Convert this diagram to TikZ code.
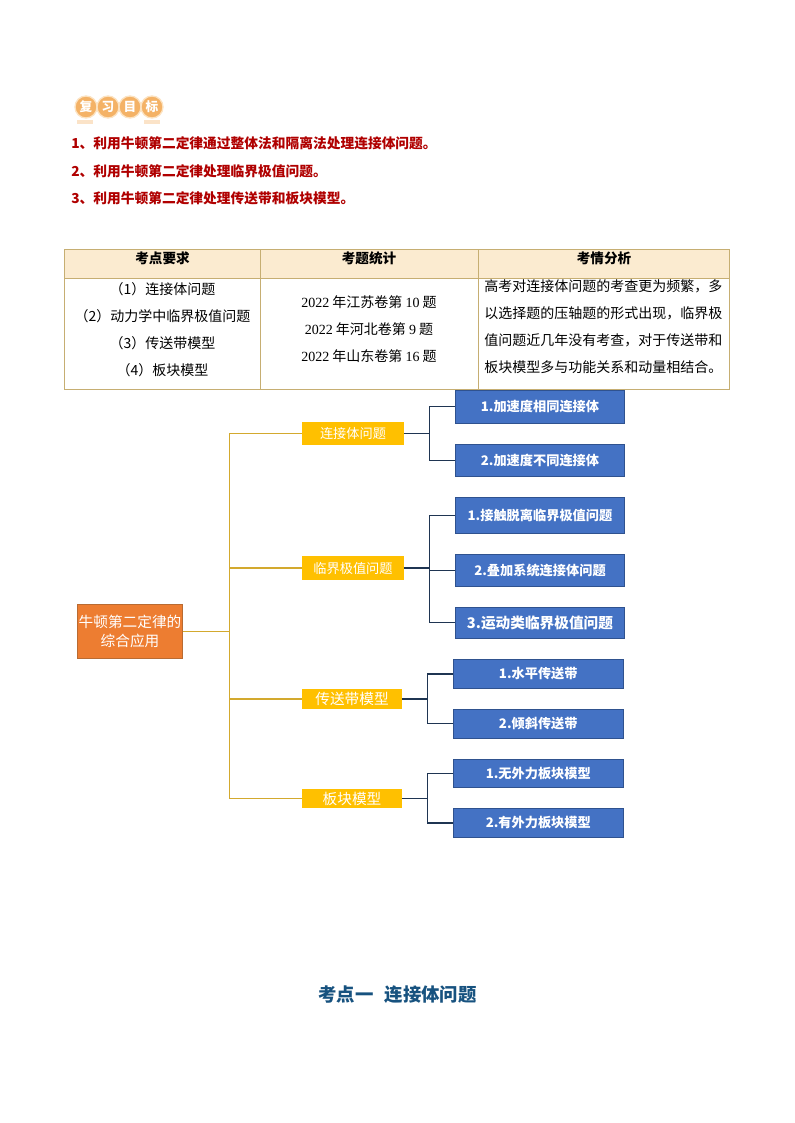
\documentclass[tikz,border=0pt]{standalone}
\usepackage{fontspec}
\setmainfont{Noto Sans CJK SC}
\newfontfamily\latinserif{Liberation Serif}
\definecolor{tabline}{HTML}{C6AE72}
\definecolor{tabhead}{HTML}{FBEBD0}
\definecolor{goldline}{HTML}{D3A92E}
\definecolor{navyline}{HTML}{1F3552}
\definecolor{rootfill}{HTML}{ED7D31}
\definecolor{rootedge}{HTML}{B96B32}
\definecolor{branchfill}{HTML}{FFC000}
\definecolor{leaffill}{HTML}{4472C4}
\definecolor{leafedge}{HTML}{2F528F}
\definecolor{badgefill}{HTML}{F4B266}
\definecolor{badgeedge}{HTML}{FCE3C2}
\definecolor{badgebar}{HTML}{FBE3C8}
\definecolor{goalred}{HTML}{B00000}
\definecolor{titleblue}{HTML}{17527F}
\newcommand{\px}[1]{\fontsize{#1*0.75}{#1*0.9}\selectfont}
\tikzset{
  fs/.style={font=\fontsize{#1}{#1}\selectfont},
  badge/.style={circle,draw=badgeedge,line width=1pt,fill=badgefill,minimum size=16.5pt,inner sep=0pt,text=white,font=\bfseries\fontsize{9.5}{10}\selectfont},
  goal/.style={anchor=west,inner sep=0pt,text=goalred,font=\bfseries\fontsize{10.3}{12}\selectfont},
  headtext/.style={inner sep=0pt,font=\bfseries\fontsize{10.2}{12}\selectfont},
  cellcenter/.style={inner sep=0pt,align=center,font=\fontsize{10.5}{20.25}\selectfont},
  cellleft/.style={anchor=north west,inner sep=0pt,align=left,font=\fontsize{10.5}{20.25}\selectfont},
  tabrule/.style={draw=tabline,line width=0.75pt},
  rootbox/.style={draw=rootedge,line width=0.75pt,fill=rootfill,text=white,minimum width=79pt,minimum height=40pt,inner sep=0pt,align=center,font=\fontsize{11}{14}\selectfont},
  branchbox/.style={fill=branchfill,text=white,minimum width=76pt,inner sep=0pt},
  leafbox/.style={draw=leafedge,line width=0.6pt,fill=leaffill,text=white,minimum width=127pt,inner sep=0pt,font=\bfseries\fontsize{9.9}{12}\selectfont},
  goldconn/.style={draw=goldline,line width=0.85pt},
  navyconn/.style={draw=navyline,line width=0.85pt},
}
\begin{document}
\begin{tikzpicture}[x=0.75pt,y=-0.75pt]
\useasboundingbox (0,0) rectangle (794,1123);
\fill[white] (0,0) rectangle (794,1123);
% badge
\fill[badgebar] (77,120) rectangle (93,124);
\fill[badgebar] (144,120) rectangle (160,124);
\node[badge] (g1) at (86,107) {复};
\node[badge] (g2) at (108,107) {习};
\node[badge] (g3) at (130,107) {目};
\node[badge] (g4) at (152,107) {标};
% goals
\node[goal] (o1) at (71,143.5) {1、利用牛顿第二定律通过整体法和隔离法处理连接体问题。};
\node[goal] (o2) at (71,171) {2、利用牛顿第二定律处理临界极值问题。};
\node[goal] (o3) at (71,198.5) {3、利用牛顿第二定律处理传送带和板块模型。};
% table
\fill[tabhead] (64.5,249.5) rectangle (729.5,278);
\draw[tabrule] (64.5,249.5) rectangle (729.5,389);
\draw[tabrule] (64.5,278) -- (729.5,278);
\draw[tabrule] (260.5,249.5) -- (260.5,389);
\draw[tabrule] (478,249.5) -- (478,389);
\node[headtext] (h1) at (162.5,258.5) {考点要求};
\node[headtext] (h2) at (369,258.5) {考题统计};
\node[headtext] (h3) at (604,258.5) {考情分析};
\node[cellcenter] (c1) at (162.5,329.5) {（1）连接体问题\\（2）动力学中临界极值问题\\（3）传送带模型\\（4）板块模型};
\node[cellcenter] (c2) at (369,329.5) {{\latinserif 2022} 年江苏卷第 {\latinserif 10} 题\\{\latinserif 2022} 年河北卷第 {\latinserif 9} 题\\{\latinserif 2022} 年山东卷第 {\latinserif 16} 题};
\node[cellleft] (c3) at (484,279) {高考对连接体问题的考查更为频繁，多\\以选择题的压轴题的形式出现，临界极\\值问题近几年没有考查，对于传送带和\\板块模型多与功能关系和动量相结合。};
% mind map
\node[rootbox] (root) at (130,631.5) {牛顿第二定律的\\综合应用};
\node[branchbox,minimum height=17pt,fs=9.9] (b1) at (353,433.5) {连接体问题};
\node[branchbox,minimum height=18pt,fs=9.9] (b2) at (353,568) {临界极值问题};
\node[branchbox,minimum height=15pt,minimum width=75pt,fs=11] (b3) at (352,699) {传送带模型};
\node[branchbox,minimum height=14pt,minimum width=75pt,fs=11] (b4) at (352,798.5) {板块模型};
\node[leafbox,minimum height=25pt] (l11) at (540,406.8) {1.加速度相同连接体};
\node[leafbox,minimum height=24.5pt] (l12) at (540,460.5) {2.加速度不同连接体};
\node[leafbox,minimum height=27pt] (l21) at (540,515.5) {1.接触脱离临界极值问题};
\node[leafbox,minimum height=24pt] (l22) at (540,570.5) {2.叠加系统连接体问题};
\node[leafbox,minimum height=23.5pt,font=\bfseries\fontsize{11}{12}\selectfont] (l23) at (540,622.8) {3.运动类临界极值问题};
\node[leafbox,minimum height=22pt] (l31) at (538.3,674) {1.水平传送带};
\node[leafbox,minimum height=22pt] (l32) at (538.3,723.8) {2.倾斜传送带};
\node[leafbox,minimum height=21pt] (l41) at (538.3,773.5) {1.无外力板块模型};
\node[leafbox,minimum height=22pt] (l42) at (538.3,823) {2.有外力板块模型};
% connectors
\coordinate (t0) at (229.5,631.5);
\draw[goldconn] (root.east) -- (t0);
\draw[goldconn] (t0) |- (b1.west);
\draw[goldconn] (t0) |- (b2.west);
\draw[goldconn] (t0) |- (b3.west);
\draw[goldconn] (t0) |- (b4.west);
\coordinate (j1) at (429.3,433.5);
\coordinate (j2) at (429.3,568);
\coordinate (j3) at (427.3,699);
\coordinate (j4) at (427.3,798.5);
\draw[navyconn] (b1.east) -- (j1);
\draw[navyconn] (j1) |- (l11.west);
\draw[navyconn] (j1) |- (l12.west);
\draw[navyconn] (b2.east) -- (j2);
\draw[navyconn] (j2) |- (l21.west);
\draw[navyconn] (j2) |- (l22.west);
\draw[navyconn] (j2) |- (l23.west);
\draw[navyconn] (b3.east) -- (j3);
\draw[navyconn] (j3) |- (l31.west);
\draw[navyconn] (j3) |- (l32.west);
\draw[navyconn] (b4.east) -- (j4);
\draw[navyconn] (j4) |- (l41.west);
\draw[navyconn] (j4) |- (l42.west);
% title
\node[inner sep=0pt,text=titleblue,font=\bfseries\fontsize{13.8}{16}\selectfont] (title) at (397.5,995) {考点一\hspace{0.6em}连接体问题};
\end{tikzpicture}
\end{document}
